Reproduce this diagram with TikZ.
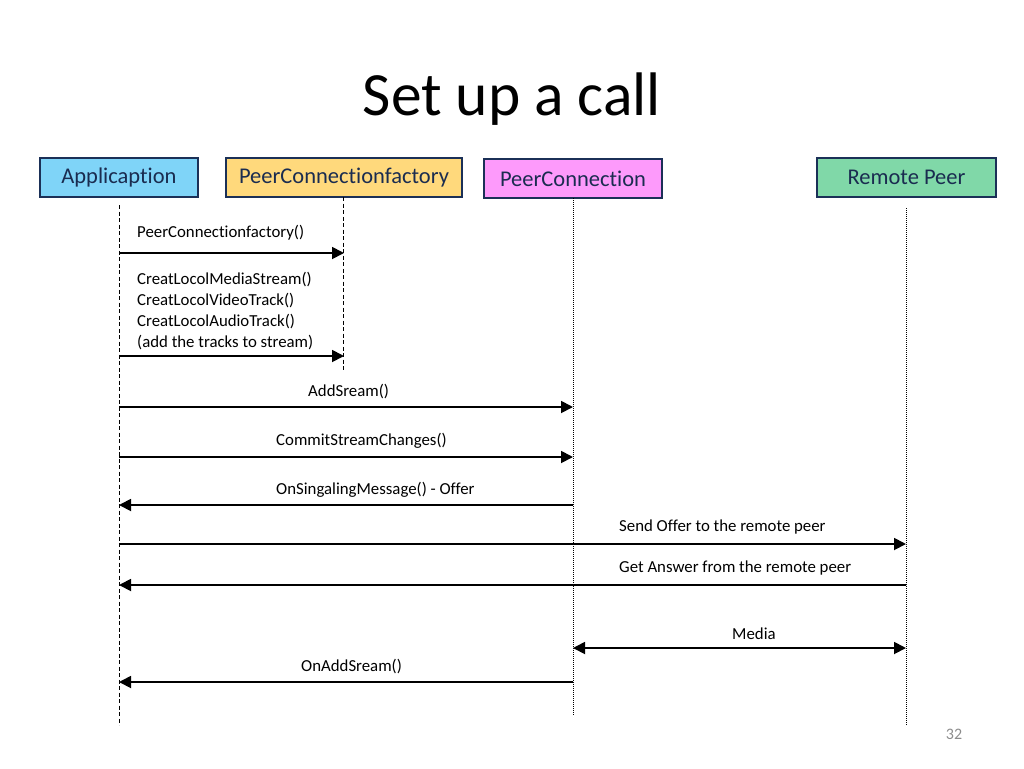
\documentclass[tikz,border=0pt]{standalone}
\usepackage{fontspec}
\setmainfont{Carlito}[Ligatures=NoCommon]
\usetikzlibrary{arrows.meta}
\definecolor{boxborder}{HTML}{1B3057}
\definecolor{boxtext}{HTML}{1A2C50}
\definecolor{appfill}{HTML}{7FD4F8}
\definecolor{facfill}{HTML}{FFD97C}
\definecolor{pcfill}{HTML}{FD9AFB}
\definecolor{rpfill}{HTML}{80D8A8}
\definecolor{pagegray}{HTML}{8C8C8C}
\begin{document}
\begin{tikzpicture}
[x=1pt,y=-1pt,
  actordecorate/.style={shape=rectangle,draw=boxborder,line width=2.4pt,
    minimum height=39pt,inner sep=0pt,text=boxtext,
    font=\fontsize{22.5}{26}\selectfont},%
  dashdecorate/.style={-,line width=0.8pt,dash pattern=on 4pt off 2.5pt},%
  dotdecorate/.style={-,line width=0.9pt,dash pattern=on 1pt off 1pt},%
  msgdecorate/.style={-{Triangle[length=12pt,width=12pt]},line width=1.8pt},%
  bothdecorate/.style={{Triangle[length=12pt,width=12pt]}-{Triangle[length=12pt,width=12pt]},line width=1.8pt},%
  labeldecorate/.style={anchor=west,inner sep=0pt,font=\fontsize{16.8}{21}\selectfont}]
\useasboundingbox (0,0) rectangle (1024,768);
%% title
\node (title) at (512,115) [anchor=base,font=\fontsize{61.5}{70}\selectfont] {Set up a call};
%% actors
\foreach \nodename/\x/\y/\w/\colour/\actor in {
  app/119/177.5/158/appfill/Applicaption,
  fac/344/177.5/236/facfill/PeerConnectionfactory,
  pc/573/178.5/178/pcfill/PeerConnection,
  rp/906.5/177.5/179/rpfill/Remote Peer} {
  \node (\nodename) at (\x,\y) [actordecorate,fill=\colour,minimum width=\w pt] {\actor};
}
%% lifelines
\foreach \nodename/\x/\ytop/\ybot in {
  app/119/205/725, fac/343/197/372, pc/573/198/715, rp/906/208/725} {
  \coordinate (\nodename top) at (\x,\ytop);
  \coordinate (\nodename bot) at (\x,\ybot);
}
\draw[dashdecorate] (apptop) -- (appbot);
\draw[dashdecorate] (factop) -- (facbot);
\draw[dotdecorate] (pctop) -- (pcbot);
\draw[dotdecorate] (rptop) -- (rpbot);
%% message ends
\foreach \msg/\y in {m1/253, m2/356, m3/407, m4/457, m5/505, m6/544, m7/585, m8/648, m9/682} {
  \coordinate (app\msg) at (119,\y);
  \coordinate (fac\msg) at (344,\y);
  \coordinate (pc\msg) at (573,\y);
  \coordinate (rp\msg) at (906,\y);
}
%% messages
\path
\foreach \startnode/\endnode in {appm1/facm1, appm2/facm2, appm3/pcm3, appm4/pcm4,
  pcm5/appm5, appm6/rpm6, rpm7/appm7, pcm9/appm9} {
  (\startnode) edge[msgdecorate] (\endnode)
};
\draw[bothdecorate] (pcm8) -- (rpm8);
%% message labels
\foreach \labelname/\x/\y/\msgtext in {
  l1/137/233/PeerConnectionfactory(),
  l3/308/392/AddSream(),
  l4/276/441/CommitStreamChanges(),
  l5/276/490/OnSingalingMessage() - Offer,
  l6/619/527/Send Offer to the remote peer,
  l7/619/568/Get Answer from the remote peer,
  l8/732/634/Media,
  l9/301/667/OnAddSream()} {
  \node (\labelname) at (\x,\y) [labeldecorate] {\msgtext};
}
\node (l2) at (137,311) [labeldecorate,align=left] {CreatLocolMediaStream()\\
  CreatLocolVideoTrack()\\ CreatLocolAudioTrack()\\ (add the tracks to stream)};
%% page number
\node (pagenum) at (954,734) [text=pagegray,font=\fontsize{16}{18}\selectfont] {32};
\end{tikzpicture}
\end{document}
